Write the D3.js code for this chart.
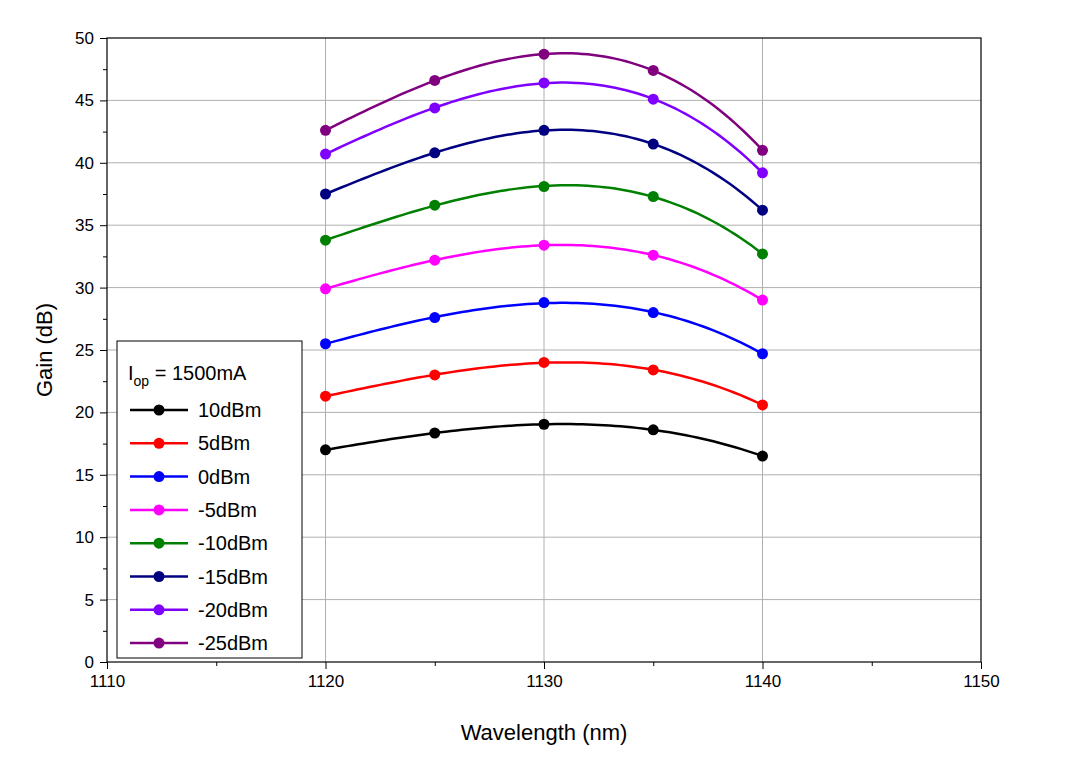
<!DOCTYPE html>
<html><head><meta charset="utf-8">
<script src="https://cdn.jsdelivr.net/npm/d3@7"></script>
<style>body{margin:0;background:#fff}text{font-family:Arial,"Liberation Sans",sans-serif}</style>
</head><body><svg id="c" width="1090" height="762"></svg>
<script>
const wavelengths = [1120, 1125, 1130, 1135, 1140]
const seriesNames = ["10dBm", "5dBm", "0dBm", "-5dBm", "-10dBm", "-15dBm", "-20dBm", "-25dBm"]
const seriesColors = ["#000000", "#ff0000", "#0000ff", "#ff00ff", "#008000", "#000080", "#8000ff", "#800080"]
const g10 = [17.0, 18.35, 19.05, 18.6, 16.5]
const g5 = [21.3, 23.0, 24.0, 23.4, 20.6]
const g0 = [25.5, 27.6, 28.8, 28.0, 24.7]
const gm5 = [29.9, 32.2, 33.4, 32.6, 29.0]
const gm10 = [33.8, 36.6, 38.1, 37.3, 32.7]
const gm15 = [37.5, 40.8, 42.6, 41.5, 36.2]
const gm20 = [40.7, 44.4, 46.4, 45.1, 39.2]
const gm25 = [42.6, 46.6, 48.7, 47.4, 41.0]
const gains = [g10, g5, g0, gm5, gm10, gm15, gm20, gm25]
const xTicks = [1110, 1120, 1130, 1140, 1150]
const yTicks = d3.range(0, 51, 5)

const svg = d3.select("#c")
const L = 107, R = 981, T = 38, B = 662
const x = d3.scaleLinear().domain([1110, 1150]).range([L, R])
const y = d3.scaleLinear().domain([0, 50]).range([B, T])

// grid
svg.append("g").selectAll("line").data(xTicks.slice(1, -1)).join("line")
	.attr("x1", d => x(d)).attr("x2", d => x(d)).attr("y1", T).attr("y2", B)
	.attr("stroke", "#b0b0b0")
svg.append("g").selectAll("line").data(yTicks.slice(1, -1)).join("line")
	.attr("y1", d => y(d)).attr("y2", d => y(d)).attr("x1", L).attr("x2", R)
	.attr("stroke", "#b0b0b0")

// axes
svg.append("g").attr("transform", `translate(0,${B})`)
	.call(d3.axisBottom(x).tickValues(xTicks).tickSize(7).tickPadding(6).tickFormat(d3.format("d")))
	.call(g => g.select(".domain").remove())
svg.append("g").attr("transform", `translate(0,${B})`)
	.call(d3.axisBottom(x).tickValues(d3.range(1115, 1150, 10)).tickSize(4).tickFormat(""))
	.call(g => g.select(".domain").remove())
svg.append("g").attr("transform", `translate(${L},0)`)
	.call(d3.axisLeft(y).tickValues(yTicks).tickSize(7).tickPadding(6))
	.call(g => g.select(".domain").remove())
svg.append("g").attr("transform", `translate(${L},0)`)
	.call(d3.axisLeft(y).tickValues(d3.range(2.5, 50, 5)).tickSize(4).tickFormat(""))
	.call(g => g.select(".domain").remove())
svg.selectAll(".tick text").attr("font-size", 17).attr("fill", "#000")
svg.selectAll(".tick line").attr("stroke", "#000")
svg.append("rect").attr("x", L).attr("y", T).attr("width", R - L).attr("height", B - T)
	.attr("fill", "none").attr("stroke", "#000").attr("stroke-width", 1.2)

svg.append("text").attr("x", x(1130)).attr("y", 740).attr("text-anchor", "middle")
	.attr("font-size", 22).text("Wavelength (nm)")
svg.append("text").attr("transform", `translate(52,${y(25)}) rotate(-90)`).attr("text-anchor", "middle")
	.attr("font-size", 22).text("Gain (dB)")

// cubic least-squares fit of each series
function fit(xs, ys, deg) {
	const x0 = 1130
	const n = deg + 1
	const A = d3.range(n).map(() => new Array(n + 1).fill(0))
	xs.forEach((xv, k) => {
		const u = xv - x0
		for (let i = 0; i < n; i++) {
			for (let j = 0; j < n; j++) A[i][j] += Math.pow(u, i + j)
			A[i][n] += ys[k] * Math.pow(u, i)
		}
	})
	for (let i = 0; i < n; i++) {
		let p = i
		for (let r = i + 1; r < n; r++) if (Math.abs(A[r][i]) > Math.abs(A[p][i])) p = r
		;[A[i], A[p]] = [A[p], A[i]]
		for (let r = 0; r < n; r++) if (r !== i) {
			const f = A[r][i] / A[i][i]
			for (let c = i; c <= n; c++) A[r][c] -= f * A[i][c]
		}
	}
	const coef = A.map((row, i) => row[n] / row[i])
	return xv => coef.reduce((s, c, i) => s + c * Math.pow(xv - x0, i), 0)
}

const line = d3.line().x(d => x(d[0])).y(d => y(d[1]))
gains.forEach((ys, s) => {
	const f = fit(wavelengths, ys, 3)
	const pts = d3.range(1120, 1140.01, 0.25).map(w => [w, f(w)])
	svg.append("path").attr("d", line(pts)).attr("fill", "none")
		.attr("stroke", seriesColors[s]).attr("stroke-width", 2.5)
	svg.append("g").selectAll("circle").data(wavelengths).join("circle")
		.attr("cx", d => x(d)).attr("cy", (d, i) => y(ys[i])).attr("r", 5.5)
		.attr("fill", seriesColors[s])
})

// legend
const lg = svg.append("g")
lg.append("rect").attr("x", 117).attr("y", 341).attr("width", 185).attr("height", 317)
	.attr("fill", "#fff").attr("stroke", "#000")
const t = lg.append("text").attr("x", 128).attr("y", 380).attr("font-size", 20)
t.append("tspan").text("I")
t.append("tspan").attr("font-size", 14).attr("dy", 6).text("op")
t.append("tspan").attr("dy", -6).text(" = 1500mA")
seriesNames.forEach((name, i) => {
	const yy = 410 + i * 33.3
	lg.append("line").attr("x1", 130).attr("x2", 188).attr("y1", yy).attr("y2", yy)
		.attr("stroke", seriesColors[i]).attr("stroke-width", 2.5)
	lg.append("circle").attr("cx", 159).attr("cy", yy).attr("r", 5.5).attr("fill", seriesColors[i])
	lg.append("text").attr("x", 198).attr("y", yy + 7).attr("font-size", 20).text(name)
})
</script></body></html>
